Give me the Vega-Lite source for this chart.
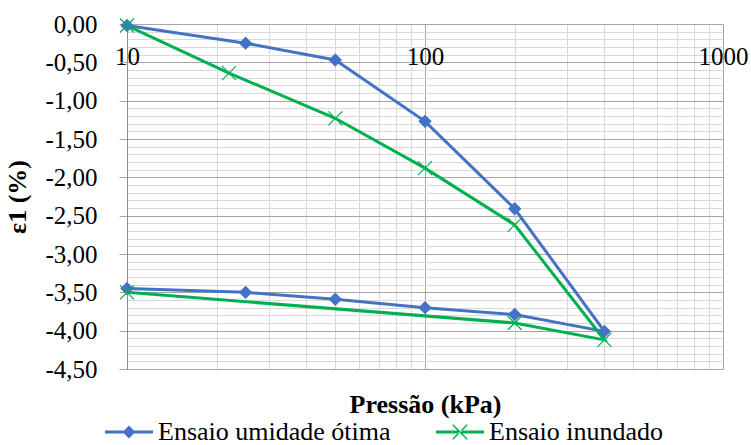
{
  "$schema": "https://vega.github.io/schema/vega-lite/v6.json",
  "width": 596,
  "height": 345,
  "autosize": {"type": "none"},
  "padding": {"left": 127, "top": 24, "right": 28, "bottom": 76},
  "background": "white",
  "config": {
    "view": {"stroke": null},
    "font": "Times New Roman, Liberation Serif, serif",
    "axis": {"labelFont": "Times New Roman, Liberation Serif, serif", "titleFont": "Times New Roman, Liberation Serif, serif"},
    "legend": {"labelFont": "Times New Roman, Liberation Serif, serif"}
  },
  "data": {
    "values": [
      {"serie": "Ensaio umidade ótima", "ordem": 1, "pressao": 10, "eps": -0.02},
      {"serie": "Ensaio umidade ótima", "ordem": 2, "pressao": 25, "eps": -0.25},
      {"serie": "Ensaio umidade ótima", "ordem": 3, "pressao": 50, "eps": -0.47},
      {"serie": "Ensaio umidade ótima", "ordem": 4, "pressao": 100, "eps": -1.27},
      {"serie": "Ensaio umidade ótima", "ordem": 5, "pressao": 200, "eps": -2.41},
      {"serie": "Ensaio umidade ótima", "ordem": 6, "pressao": 400, "eps": -4.01},
      {"serie": "Ensaio umidade ótima", "ordem": 7, "pressao": 200, "eps": -3.79},
      {"serie": "Ensaio umidade ótima", "ordem": 8, "pressao": 100, "eps": -3.70},
      {"serie": "Ensaio umidade ótima", "ordem": 9, "pressao": 50, "eps": -3.59},
      {"serie": "Ensaio umidade ótima", "ordem": 10, "pressao": 25, "eps": -3.50},
      {"serie": "Ensaio umidade ótima", "ordem": 11, "pressao": 10, "eps": -3.45},
      {"serie": "Ensaio inundado", "ordem": 1, "pressao": 10, "eps": -0.02},
      {"serie": "Ensaio inundado", "ordem": 2, "pressao": 22, "eps": -0.64},
      {"serie": "Ensaio inundado", "ordem": 3, "pressao": 50, "eps": -1.23},
      {"serie": "Ensaio inundado", "ordem": 4, "pressao": 100, "eps": -1.88},
      {"serie": "Ensaio inundado", "ordem": 5, "pressao": 200, "eps": -2.62},
      {"serie": "Ensaio inundado", "ordem": 6, "pressao": 400, "eps": -4.12},
      {"serie": "Ensaio inundado", "ordem": 7, "pressao": 200, "eps": -3.90},
      {"serie": "Ensaio inundado", "ordem": 8, "pressao": 10, "eps": -3.50}
    ]
  },
  "encoding": {
    "x": {
      "field": "pressao",
      "type": "quantitative",
      "scale": {"type": "log", "domain": [10, 1000], "nice": false},
      "axis": {
        "orient": "bottom",
        "offset": -345,
        "values": [10, 20, 30, 40, 50, 60, 70, 80, 90, 100, 200, 300, 400, 500, 600, 700, 800, 900, 1000],
        "labelExpr": "(datum.value == 10 || datum.value == 100 || datum.value == 1000) ? format(datum.value, 'd') : ''",
        "labelFont": "Times New Roman, Liberation Serif, serif",
        "labelFontSize": 25,
        "labelColor": "#000000",
        "labelPadding": 20,
        "labelFlush": false,
        "labelOverlap": false,
        "ticks": false,
        "domain": false,
        "grid": true,
        "gridColor": {"condition": {"test": "datum.value == 10 || datum.value == 100 || datum.value == 1000", "value": "#a6a6a6"}, "value": "#d9d9d9"},
        "gridWidth": 1,
        "title": "Pressão (kPa)",
        "titleFont": "Times New Roman, Liberation Serif, serif",
        "titleFontSize": 26,
        "titleFontWeight": "bold",
        "titleColor": "#000000",
        "titleBaseline": "alphabetic",
        "titleY": 388
      }
    },
    "y": {
      "field": "eps",
      "type": "quantitative",
      "scale": {"domain": [-4.5, 0], "nice": false, "zero": false},
      "axis": {
        "values": [0, -0.1, -0.2, -0.3, -0.4, -0.5, -0.6, -0.7, -0.8, -0.9, -1, -1.1, -1.2, -1.3, -1.4, -1.5, -1.6, -1.7, -1.8, -1.9, -2, -2.1, -2.2, -2.3, -2.4, -2.5, -2.6, -2.7, -2.8, -2.9, -3, -3.1, -3.2, -3.3, -3.4, -3.5, -3.6, -3.7, -3.8, -3.9, -4, -4.1, -4.2, -4.3, -4.4, -4.5],
        "labelExpr": "abs(datum.value * 2 - round(datum.value * 2)) < 0.001 ? replace(replace(format(datum.value, '.2f'), '.', ','), '\u2212', '-') : ''",
        "labelFont": "Times New Roman, Liberation Serif, serif",
        "labelFontSize": 25,
        "labelColor": "#000000",
        "labelPadding": 22,
        "labelOverlap": false,
        "labelFlush": false,
        "tickSize": 8,
        "tickColor": "#a6a6a6",
        "tickOpacity": {"condition": {"test": "abs(datum.value * 2 - round(datum.value * 2)) < 0.001", "value": 1}, "value": 0},
        "domain": true,
        "domainColor": "#8c8c8c",
        "grid": true,
        "gridColor": {"condition": {"test": "abs(datum.value * 2 - round(datum.value * 2)) < 0.001", "value": "#a6a6a6"}, "value": "#d9d9d9"},
        "gridWidth": 1,
        "title": "ε1 (%)",
        "titleFont": "Times New Roman, Liberation Serif, serif",
        "titleFontSize": 26,
        "titleFontWeight": "bold",
        "titleColor": "#000000",
        "titlePadding": 14
      }
    }
  },
  "layer": [
    {
      "mark": {"type": "line", "strokeWidth": 3},
      "encoding": {
        "color": {
          "field": "serie",
          "type": "nominal",
          "scale": {"domain": ["Ensaio umidade ótima", "Ensaio inundado"], "range": ["#4472C4", "#00B050"]},
          "legend": {
            "orient": "none",
            "direction": "horizontal",
            "legendX": -22,
            "legendY": 384,
            "title": null,
            "padding": 0,
            "symbolSize": 2304,
            "symbolStrokeWidth": 0,
            "labelOffset": 5,
            "columnPadding": 45,
            "labelFont": "Times New Roman, Liberation Serif, serif",
            "labelFontSize": 26,
            "labelColor": "#000000",
            "labelLimit": 400,
            "encode": {
              "symbols": {
                "update": {
                  "shape": {"signal": "datum.value == 'Ensaio inundado' ? 'M-1,-0.0625L1,-0.0625L1,0.0625L-1,0.0625Z M-0.278,-0.322L0.322,0.278L0.278,0.322L-0.322,-0.278Z M-0.278,0.322L0.322,-0.278L0.278,-0.322L-0.322,0.278Z' : 'M-1,-0.0625L1,-0.0625L1,0.0625L-1,0.0625Z M0,-0.27L0.27,0L0,0.27L-0.27,0Z'"},
                  "fill": {"signal": "datum.value == 'Ensaio inundado' ? '#00B050' : '#4472C4'"},
                  "fillOpacity": {"value": 1},
                  "opacity": {"value": 1},
                  "strokeWidth": {"value": 0}
                }
              }
            }
          }
        },
        "order": {"field": "ordem", "type": "quantitative"}
      }
    },
    {
      "transform": [{"filter": "datum.serie == 'Ensaio umidade ótima'"}],
      "mark": {"type": "point", "shape": "diamond", "filled": true, "size": 180, "opacity": 1, "color": "#4472C4"},
      "encoding": {}
    },
    {
      "transform": [{"filter": "datum.serie == 'Ensaio inundado'"}],
      "mark": {"type": "point", "shape": "M-1,-1L1,1M-1,1L1,-1", "filled": false, "size": 196, "opacity": 1, "strokeWidth": 1.2, "color": "#00B050"},
      "encoding": {}
    }
  ]
}
